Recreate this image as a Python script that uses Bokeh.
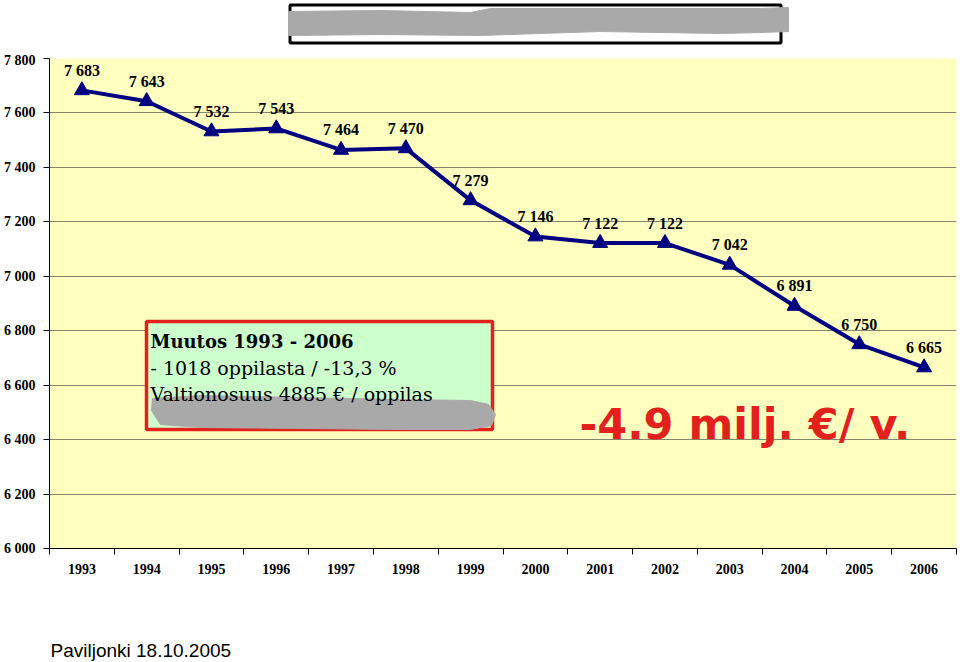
from bokeh.plotting import figure
from bokeh.layouts import column
from bokeh.models import FixedTicker, Range1d
from bokeh.core.properties import value
from bokeh.embed import file_html
from bokeh.resources import INLINE

# ---- data ----
years = ["1993", "1994", "1995", "1996", "1997", "1998", "1999",
         "2000", "2001", "2002", "2003", "2004", "2005", "2006"]
students = [7683, 7643, 7532, 7543, 7464, 7470, 7279,
            7146, 7122, 7122, 7042, 6891, 6750, 6665]
y_ticks = [6000, 6200, 6400, 6600, 6800, 7000, 7200, 7400, 7600, 7800]
y_tick_labels = ["6 000", "6 200", "6 400", "6 600", "6 800",
                 "7 000", "7 200", "7 400", "7 600", "7 800"]
point_labels = ["{:,}".format(v).replace(",", " ") for v in students]

box_lines = ["Muutos 1993 - 2006",
             "- 1018 oppilasta / -13,3 %",
             "Valtionosuus 4885 \u20ac / oppilas"]
big_text = "-4.9 milj. \u20ac/ v."
footer = "Paviljonki 18.10.2005"

W = 960
SERIF = "Liberation Serif"
NAVY = "#000080"
RED = "#E2201C"
GRAY = "#A9A9A9"

# page-pixel geometry of the plotting frame
FL, FR, FT, FB = 49, 956, 58, 548

def strip(height):
    f = figure(width=W, height=height, x_range=Range1d(FL, FR), y_range=Range1d(height, 0),
               output_backend="svg", toolbar_location=None,
               x_axis_type=None, y_axis_type=None,
               min_border_left=FL, min_border_right=W - FR, min_border_top=0, min_border_bottom=0)
    f.outline_line_color = None
    f.background_fill_color = "white"
    f.border_fill_color = "white"
    return f

# ---- top strip (redacted title box) ----
top = strip(52)
top.quad(left=[289.5], right=[780.5], top=[4.5], bottom=[42.5],
         fill_color="white", line_color="black", line_width=3)
gx = [288, 380, 470, 490, 600, 700, 760, 788, 788, 760, 720, 600, 480, 380, 288]
gy = [11, 10, 12, 8, 8, 8, 8, 7, 31, 32, 33, 31, 35, 34, 35]
top.patch(gx, gy, fill_color=GRAY, line_color=GRAY)

# ---- main chart ----
p = figure(width=W, height=560, x_range=Range1d(-0.5, 13.5), y_range=Range1d(6000, 7800),
           output_backend="svg", toolbar_location=None,
           min_border_left=FL, min_border_right=W - FR, min_border_top=6, min_border_bottom=64)
p.background_fill_color = "#FFFFC0"
p.border_fill_color = "white"
p.outline_line_color = None

p.xgrid.grid_line_color = None
p.ygrid.ticker = FixedTicker(ticks=y_ticks)
p.ygrid.grid_line_color = "#86866F"
p.ygrid.grid_line_width = 1

p.yaxis.ticker = FixedTicker(ticks=y_ticks)
p.yaxis.major_label_overrides = dict(zip(y_ticks, y_tick_labels))
p.yaxis.major_tick_in = 0
p.yaxis.major_tick_out = 6
p.yaxis.minor_tick_out = 0
p.yaxis.minor_tick_in = 0
p.yaxis.major_label_standoff = 8
p.yaxis.axis_line_color = "black"
p.yaxis.major_label_text_font = SERIF
p.yaxis.major_label_text_font_style = "bold"
p.yaxis.major_label_text_font_size = "14px"
p.yaxis.major_label_text_color = "black"

xi = list(range(len(years)))
p.xaxis.ticker = FixedTicker(ticks=xi, minor_ticks=[i - 0.5 for i in range(len(years) + 1)])
p.xaxis.major_label_overrides = dict(zip(xi, years))
p.xaxis.major_tick_in = 0
p.xaxis.major_tick_out = 0
p.xaxis.minor_tick_in = 0
p.xaxis.minor_tick_out = 6
p.xaxis.major_label_standoff = 9
p.xaxis.axis_line_color = "black"
p.xaxis.major_label_text_font = SERIF
p.xaxis.major_label_text_font_style = "bold"
p.xaxis.major_label_text_font_size = "14px"
p.xaxis.major_label_text_color = "black"

p.line(xi, students, line_color=NAVY, line_width=4)
p.scatter(xi, students, marker="triangle", size=15, fill_color=NAVY, line_color=NAVY)
p.text(xi, students, text=point_labels, text_align="center", text_baseline="middle",
       y_offset=-20, text_font=value(SERIF), text_font_style="bold",
       text_font_size="16px", text_color="black")

# helpers to place annotations (page pixel -> data)
def dx(px):
    return -0.5 + (px - FL) * 14 / (FR - FL)
def dy(py):
    return 6000 + (FB - py) * 1800 / (FB - FT)

# annotation box
p.quad(left=[dx(146)], right=[dx(492)], top=[dy(321)], bottom=[dy(429)],
       fill_color="#CCFFCC", line_color=RED, line_width=3.5)
bx = [152, 200, 300, 400, 470, 488, 495, 491, 470, 400, 300, 200, 160, 151]
by = [398, 395, 397, 399, 400, 404, 414, 425, 429, 429, 428, 427, 424, 410]
p.patch([dx(v) for v in bx], [dy(v) for v in by], fill_color=GRAY, line_color=GRAY)
p.text([dx(150)], [dy(341)], text=[box_lines[0]], text_baseline="alphabetic",
       text_font=value("DejaVu Serif"), text_font_style="bold", text_font_size="18px",
       text_color="black")
p.text([dx(150)] * 2, [dy(367), dy(393)], text=box_lines[1:], text_baseline="alphabetic",
       text_font=value("DejaVu Serif"), text_font_size="19px", text_color="black")

# big red text
p.text([dx(579)], [dy(423)], text=[big_text], text_baseline="alphabetic",
       text_font=value("DejaVu Sans"), text_font_style="bold",
       text_font_size="43px", text_color=RED)

# ---- footer ----
bot = strip(50)
bot.text([50], [38], text=[footer], text_baseline="alphabetic",
         text_font=value("Liberation Sans"), text_font_size="19px", text_color="black")

layout = column(top, p, bot, spacing=0)
open("out.html", "w").write(file_html(layout, INLINE))
